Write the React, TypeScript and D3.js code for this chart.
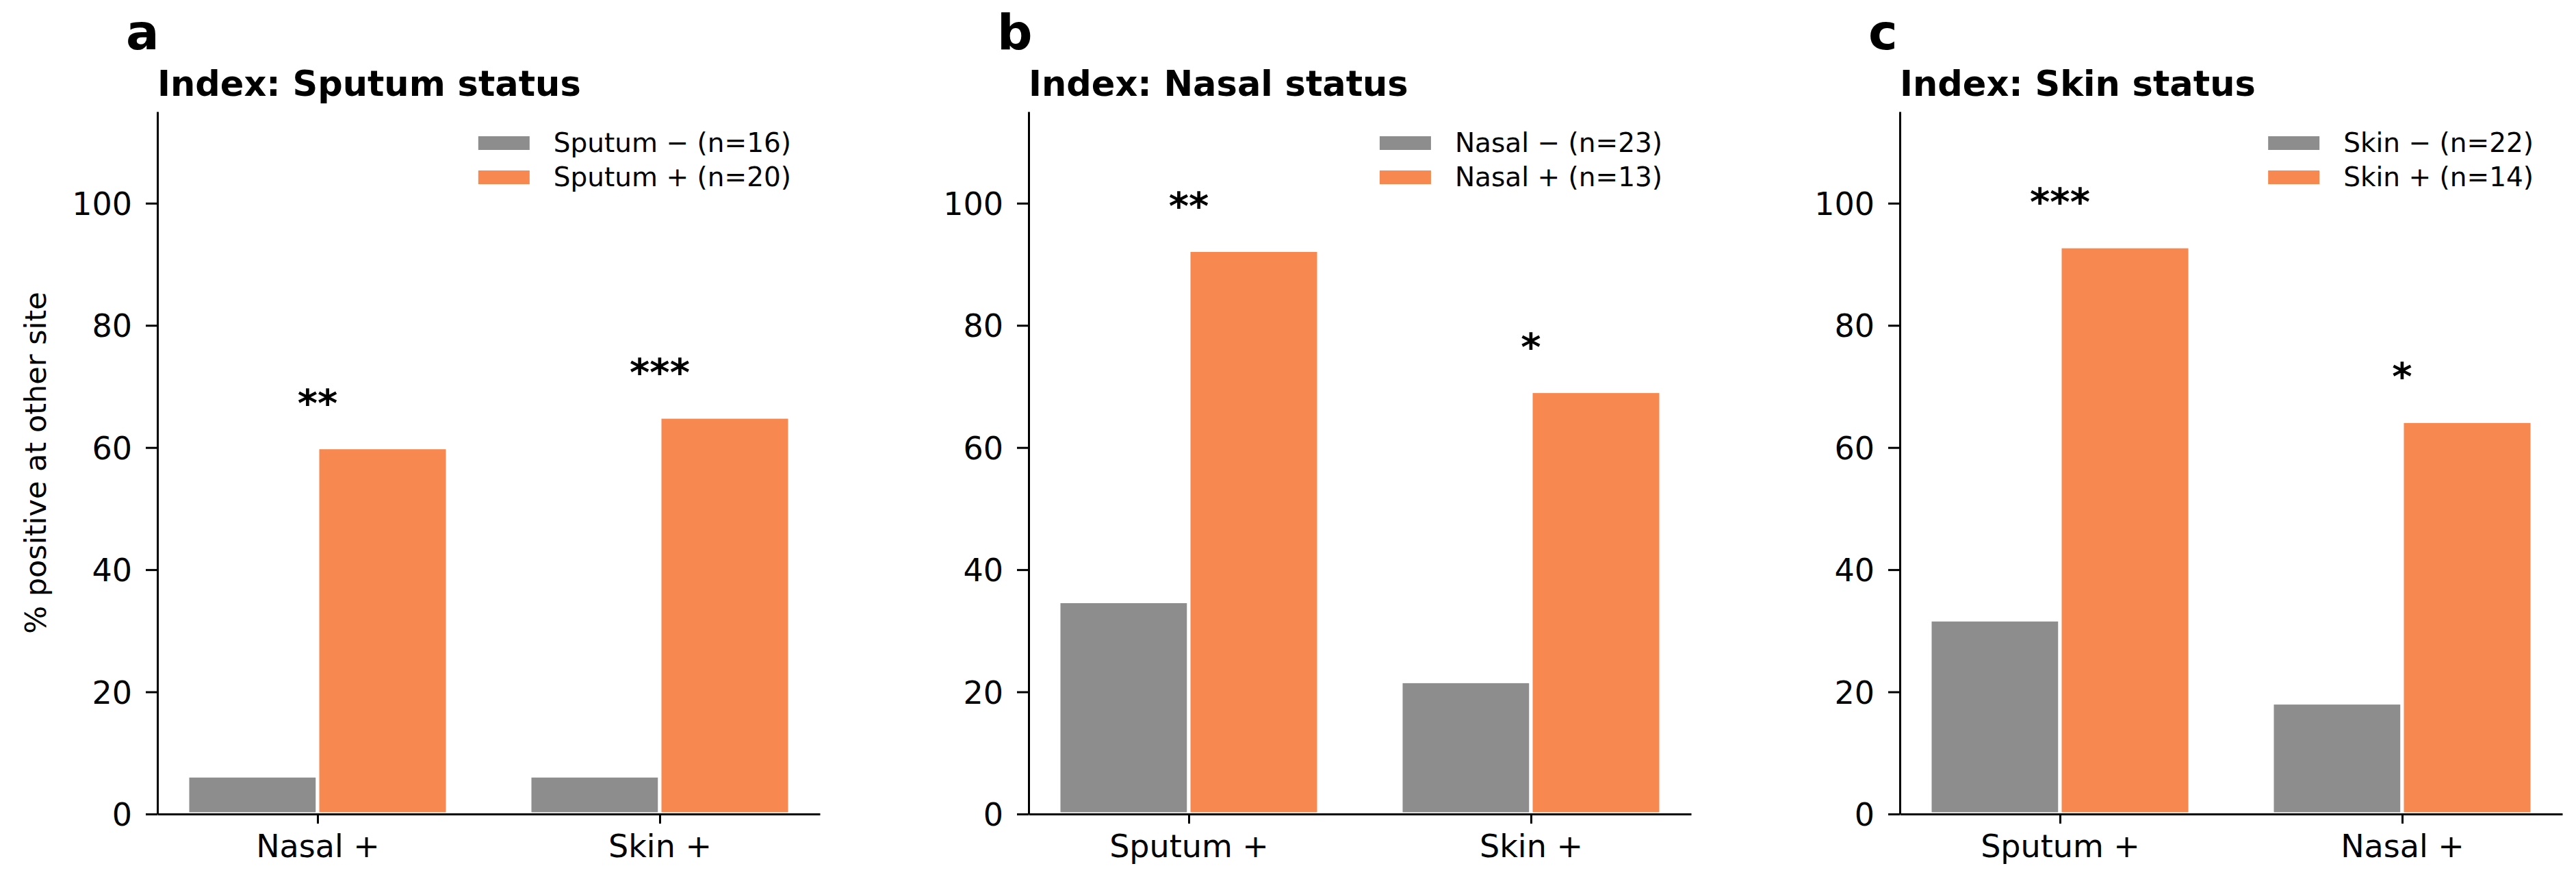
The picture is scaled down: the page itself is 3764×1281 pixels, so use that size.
import { useEffect, useRef } from "react";
import * as d3 from "d3";

// per panel: a, b, c
const panelLetters = ["a", "b", "c"];
const indexSites = ["Sputum", "Nasal", "Skin"];
const negCounts = [16, 23, 22];
const posCounts = [20, 13, 14];
const categories = [
  ["Nasal +", "Skin +"],
  ["Sputum +", "Skin +"],
  ["Sputum +", "Nasal +"],
];
// % positive at other site, index-negative group
const negValues = [
  [6.25, 6.25],
  [34.8, 21.7],
  [31.8, 18.2],
];
// % positive at other site, index-positive group
const posValues = [
  [60.0, 65.0],
  [92.3, 69.2],
  [92.9, 64.3],
];
const stars = [
  ["**", "***"],
  ["**", "*"],
  ["***", "*"],
];
const yTicks = [0, 20, 40, 60, 80, 100];

const W = 3764;
const H = 1281;
const FONT = "DejaVu Sans";
const GREY = "#8d8d8d";
const ORANGE = "#f7884f";

export default function App() {
  const svgRef = useRef<SVGSVGElement>(null);

  useEffect(() => {
    if (!svgRef.current) return;
    const svg = d3.select(svgRef.current);
    svg.selectAll("*").remove();

    svg.append("rect").attr("width", W).attr("height", H).attr("fill", "#ffffff");

    const axisLefts = [230, 1503, 2776];
    const axisWidth = 968;
    const top = 163;
    const bottom = 1189;
    const barW = 0.38;

    const y = d3.scaleLinear().domain([0, 115]).range([bottom, top]);

    panelLetters.forEach((letter, p) => {
      const left = axisLefts[p];
      const x = d3.scaleLinear().domain([-0.468, 1.468]).range([left, left + axisWidth]);
      const g = svg.append("g");

      // bars
      const rows = categories[p].map((c, i) => ({
        i,
        neg: negValues[p][i],
        pos: posValues[p][i],
        star: stars[p][i],
      }));

      g.selectAll("rect.neg")
        .data(rows)
        .enter()
        .append("rect")
        .attr("x", (d) => x(d.i - barW))
        .attr("y", (d) => y(d.neg))
        .attr("width", x(barW) - x(0))
        .attr("height", (d) => y(0) - y(d.neg))
        .attr("fill", GREY)
        .attr("stroke", "#ffffff")
        .attr("stroke-width", 5);

      g.selectAll("rect.pos")
        .data(rows)
        .enter()
        .append("rect")
        .attr("x", (d) => x(d.i))
        .attr("y", (d) => y(d.pos))
        .attr("width", x(barW) - x(0))
        .attr("height", (d) => y(0) - y(d.pos))
        .attr("fill", ORANGE)
        .attr("stroke", "#ffffff")
        .attr("stroke-width", 5);

      // significance stars
      g.selectAll("text.star")
        .data(rows)
        .enter()
        .append("text")
        .attr("x", (d) => x(d.i))
        .attr("y", (d) => y(Math.max(d.neg, d.pos)) - 46)
        .attr("text-anchor", "middle")
        .attr("font-family", FONT)
        .attr("font-weight", "bold")
        .attr("font-size", 56)
        .attr("fill", "#000")
        .text((d) => d.star);

      // axes
      const yAxis = g
        .append("g")
        .attr("transform", `translate(${left},0)`)
        .call(d3.axisLeft(y).tickValues(yTicks).tickSize(17).tickSizeOuter(0).tickPadding(20));
      const xAxis = g
        .append("g")
        .attr("transform", `translate(0,${bottom})`)
        .call(
          d3
            .axisBottom(x)
            .tickValues([0, 1])
            .tickFormat((v) => categories[p][+v])
            .tickSize(14)
            .tickSizeOuter(0)
            .tickPadding(16)
        );
      [yAxis, xAxis].forEach((ax) => {
        ax.attr("font-family", FONT).attr("font-size", 46);
        ax.select(".domain").attr("stroke", "#000").attr("stroke-width", 3);
        ax.selectAll(".tick line").attr("stroke", "#000").attr("stroke-width", 3);
        ax.selectAll(".tick text").attr("fill", "#000");
      });
      yAxis.selectAll(".tick text").attr("dy", "0.36em");

      // title + panel letter
      g.append("text")
        .attr("x", left)
        .attr("y", 140)
        .attr("font-family", FONT)
        .attr("font-weight", "bold")
        .attr("font-size", 51)
        .text(`Index: ${indexSites[p]} status`);

      g.append("text")
        .attr("x", left - 46)
        .attr("y", 72)
        .attr("font-family", FONT)
        .attr("font-weight", "bold")
        .attr("font-size", 72)
        .text(letter);

      // legend (upper right)
      const legLabels = [
        `${indexSites[p]} \u2212 (n=${negCounts[p]})`,
        `${indexSites[p]} + (n=${posCounts[p]})`,
      ];
      const legColors = [GREY, ORANGE];
      const leg = g.append("g");
      const texts = leg
        .selectAll("text")
        .data(legLabels)
        .enter()
        .append("text")
        .attr("y", (_, i) => 222 + i * 50)
        .attr("font-family", FONT)
        .attr("font-size", 39)
        .attr("fill", "#000")
        .text((d) => d);
      let maxW = 0;
      texts.each(function () {
        maxW = Math.max(maxW, (this as SVGTextElement).getComputedTextLength());
      });
      const textX = left + axisWidth - 42 - maxW;
      texts.attr("x", textX);
      leg
        .selectAll("rect")
        .data(legColors)
        .enter()
        .append("rect")
        .attr("x", textX - 35 - 75)
        .attr("y", (_, i) => 199 + i * 50)
        .attr("width", 75)
        .attr("height", 20)
        .attr("fill", (d) => d);
    });

    // shared y label
    svg
      .append("text")
      .attr("transform", `translate(67,${(top + bottom) / 2}) rotate(-90)`)
      .attr("text-anchor", "middle")
      .attr("font-family", FONT)
      .attr("font-size", 43)
      .attr("fill", "#000")
      .text("% positive at other site");
  }, []);

  return (
    <svg
      ref={svgRef}
      width={W}
      height={H}
      style={{ position: "absolute", left: 0, top: 0, display: "block" }}
    />
  );
}
